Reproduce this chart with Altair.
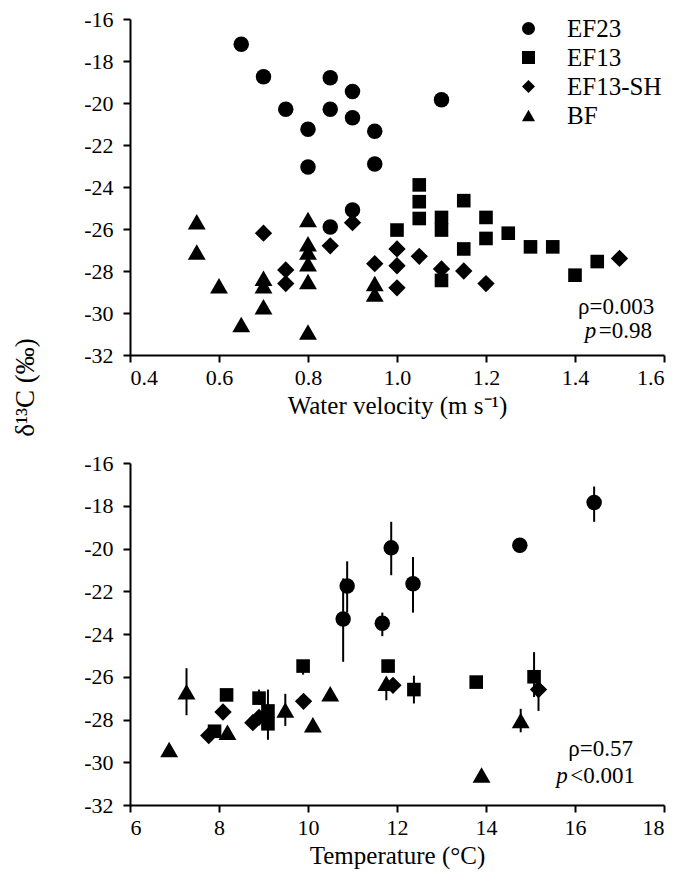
import altair as alt
import pandas as pd

FONT = "Liberation Serif"

groups = ["EF23", "EF13", "EF13-SH", "BF"]
shapes = ["circle", "square", "diamond", "triangle-up"]
sizes = [240, 185, 300, 320]

d13c_ticks = [-32, -30, -28, -26, -24, -22, -20, -18, -16]
vel_ticks = [0.4, 0.6, 0.8, 1.0, 1.2, 1.4, 1.6]
temp_ticks = [6, 8, 10, 12, 14, 16, 18]

# ---- Top panel: water velocity vs d13C ----
vel_ef23_x = [0.65, 0.70, 0.85, 0.90, 0.75, 0.85, 0.90, 0.80, 0.95, 0.80, 0.95, 1.10, 0.85, 0.90]
vel_ef23_y = [-17.2, -18.75, -18.8, -19.45, -20.3, -20.3, -20.7, -21.25, -21.35, -23.05, -22.9, -19.85, -25.9, -25.1]

vel_ef13_x = [1.00, 1.05, 1.05, 1.05, 1.10, 1.10, 1.10, 1.15, 1.15, 1.20, 1.20, 1.25, 1.30, 1.35, 1.40, 1.45]
vel_ef13_y = [-26.05, -23.9, -24.7, -25.5, -25.45, -26.05, -28.45, -24.65, -26.95, -25.45, -26.45, -26.2, -26.85, -26.85, -28.2, -27.55]

vel_sh_x = [0.70, 0.75, 0.75, 0.85, 0.90, 0.95, 1.00, 1.00, 1.00, 1.05, 1.10, 1.15, 1.20, 1.50]
vel_sh_y = [-26.2, -27.95, -28.6, -26.8, -25.7, -27.65, -26.95, -27.75, -28.8, -27.3, -27.9, -28.0, -28.6, -27.4]

vel_bf_x = [0.55, 0.55, 0.60, 0.65, 0.70, 0.70, 0.70, 0.80, 0.80, 0.80, 0.80, 0.80, 0.80, 0.95, 0.95]
vel_bf_y = [-25.65, -27.1, -28.7, -30.55, -28.35, -28.7, -29.7, -25.55, -26.7, -27.1, -27.65, -28.5, -30.9, -28.6, -29.1]

# ---- Bottom panel: temperature vs d13C (mean, upper, lower) ----
tmp_ef23_x = [10.79, 10.88, 11.67, 11.87, 12.36, 14.76, 16.43]
tmp_ef23_y = [-23.3, -21.75, -23.5, -19.97, -21.65, -19.85, -17.85]
tmp_ef23_hi = [-21.4, -20.6, -23.0, -18.75, -20.4, -19.6, -17.1]
tmp_ef23_lo = [-25.3, -23.0, -24.1, -21.25, -23.0, -20.2, -18.75]

tmp_ef13_x = [7.90, 8.17, 8.90, 9.10, 9.10, 9.89, 11.80, 12.38, 13.78, 15.08]
tmp_ef13_y = [-28.55, -26.85, -27.0, -27.6, -28.2, -25.5, -25.5, -26.6, -26.25, -26.0]
tmp_ef13_hi = [-28.55, -26.85, -26.6, -27.6, -26.6, -25.3, -25.2, -25.95, -26.25, -24.85]
tmp_ef13_lo = [-28.55, -26.85, -27.3, -27.6, -28.95, -25.9, -25.8, -27.25, -26.25, -26.95]

tmp_sh_x = [7.77, 8.09, 8.76, 8.90, 9.90, 11.91, 15.18]
tmp_sh_y = [-28.75, -27.65, -28.15, -27.9, -27.15, -26.4, -26.6]
tmp_sh_hi = [-28.75, -27.65, -28.15, -27.9, -27.15, -26.4, -26.6]
tmp_sh_lo = [-28.75, -27.65, -28.15, -27.9, -27.15, -26.4, -27.6]

tmp_bf_x = [6.88, 7.27, 8.19, 9.49, 10.11, 10.50, 11.76, 13.90, 14.78]
tmp_bf_y = [-29.4, -26.7, -28.6, -27.55, -28.25, -26.8, -26.3, -30.6, -28.05]
tmp_bf_hi = [-29.2, -25.6, -28.6, -26.8, -28.25, -26.8, -26.3, -30.6, -27.5]
tmp_bf_lo = [-29.65, -27.8, -28.6, -28.3, -28.25, -26.8, -27.1, -30.6, -28.6]

# annotations (data coordinates of the left edge of each line)
top_note_x = [1.407, 1.422]
top_note_y = [-29.7, -30.85]
bot_note_x = [15.85, 15.58]
bot_note_y = [-29.4, -30.65]


def frame(pairs):
    rows = []
    for g, xs, ys in pairs:
        for x, y in zip(xs, ys):
            rows.append({"group": g, "x": x, "y": y})
    return pd.DataFrame(rows)


top_df = frame([
    ("EF23", vel_ef23_x, vel_ef23_y),
    ("EF13", vel_ef13_x, vel_ef13_y),
    ("EF13-SH", vel_sh_x, vel_sh_y),
    ("BF", vel_bf_x, vel_bf_y),
])

bot_rows = []
for g, xs, ys, his, los in [
    ("EF23", tmp_ef23_x, tmp_ef23_y, tmp_ef23_hi, tmp_ef23_lo),
    ("EF13", tmp_ef13_x, tmp_ef13_y, tmp_ef13_hi, tmp_ef13_lo),
    ("EF13-SH", tmp_sh_x, tmp_sh_y, tmp_sh_hi, tmp_sh_lo),
    ("BF", tmp_bf_x, tmp_bf_y, tmp_bf_hi, tmp_bf_lo),
]:
    for x, y, hi, lo in zip(xs, ys, his, los):
        bot_rows.append({"group": g, "x": x, "y": y, "hi": hi, "lo": lo})
bot_df = pd.DataFrame(bot_rows)
err_df = bot_df[bot_df["hi"] != bot_df["lo"]]

shape_scale = alt.Scale(domain=groups, range=shapes)

axis_common = dict(
    grid=False, domainColor="black", domainWidth=2, tickColor="black", tickWidth=2,
    tickSize=7, labelFont=FONT, labelFontSize=22, labelColor="black",
    titleFont=FONT, titleFontSize=25, titleFontWeight="normal", titleColor="black",
)

ydom = alt.Scale(domain=[-32, -16], nice=False, zero=False)

# ---------- top chart ----------
x_top = alt.X("x:Q", scale=alt.Scale(domain=[0.4, 1.6], nice=False, zero=False),
              axis=alt.Axis(values=vel_ticks, format=".1f", title="Water velocity (m s⁻¹)",
                            labelPadding=5, titlePadding=5, **axis_common))
y_top_common = dict(axis_common)
y_top_common["titleFontSize"] = 27
y_top = alt.Y("y:Q", scale=ydom,
              axis=alt.Axis(values=d13c_ticks, labelExpr="'' + datum.value", title="δ¹³C (‰)",
                            labelPadding=10, titleX=-91, titleY=368, titleAlign="center",
                            **y_top_common))

legend = alt.Legend(orient="none", legendX=386, legendY=-3, title=None,
                    labelFont=FONT, labelFontSize=25, labelColor="black",
                    symbolFillColor="black", symbolStrokeColor="black",
                    symbolOpacity=1, symbolStrokeWidth=0, symbolSize=170,
                    rowPadding=3, labelOffset=26, padding=0)


def point_layers(df, x_enc, y_enc, show_legend):
    layers = []
    for g, sz in zip(groups, sizes):
        layers.append(
            alt.Chart(df).transform_filter(alt.datum.group == g)
            .mark_point(filled=True, color="black", opacity=1, strokeWidth=0, size=sz)
            .encode(x=x_enc, y=y_enc,
                    shape=alt.Shape("group:N", scale=shape_scale,
                                    legend=legend if show_legend else None))
        )
    return layers


def note(x, y, t, italic=False, dx=0):
    df = pd.DataFrame({"x": [x], "y": [y], "t": [t]})
    return alt.Chart(df).mark_text(font=FONT, fontSize=23, align="left", baseline="middle",
                                   color="black", fontStyle="italic" if italic else "normal",
                                   dx=dx).encode(x="x:Q", y="y:Q", text="t:N")


top = alt.layer(
    *point_layers(top_df, x_top, y_top, True),
    note(top_note_x[0], top_note_y[0], "ρ=0.003"),
    note(top_note_x[1], top_note_y[1], "p", True),
    note(top_note_x[1], top_note_y[1], "=0.98", dx=14),
).properties(width=534, height=336)

# ---------- bottom chart ----------
x_bot = alt.X("x:Q", scale=alt.Scale(domain=[6, 18], nice=False, zero=False),
              axis=alt.Axis(values=temp_ticks, format="d", title="Temperature (°C)",
                            labelPadding=5, titlePadding=5, **axis_common))
y_bot_axis = alt.Axis(values=d13c_ticks, labelExpr="'' + datum.value", title=None,
                      labelPadding=10, **axis_common)
y_bot = alt.Y("y:Q", scale=ydom, axis=y_bot_axis)

err = alt.Chart(err_df).mark_rule(color="black", strokeWidth=2).encode(
    x=x_bot, y=alt.Y("lo:Q", scale=ydom, axis=y_bot_axis), y2="hi:Q")

bottom = alt.layer(
    err,
    *point_layers(bot_df, x_bot, y_bot, False),
    note(bot_note_x[0], bot_note_y[0], "ρ=0.57"),
    note(bot_note_x[1], bot_note_y[1], "p", True),
    note(bot_note_x[1], bot_note_y[1], "<0.001", dx=14),
).properties(width=534, height=342)

chart = alt.vconcat(top, bottom, spacing=108, bounds="flush").resolve_scale(
    x="independent", y="independent", shape="independent"
).resolve_legend(shape="independent").properties(
    padding={"left": 3, "top": 0, "right": 5, "bottom": 5}
).configure_view(stroke=None)

chart.save("out.html", embed_options={"renderer": "svg", "actions": False})
